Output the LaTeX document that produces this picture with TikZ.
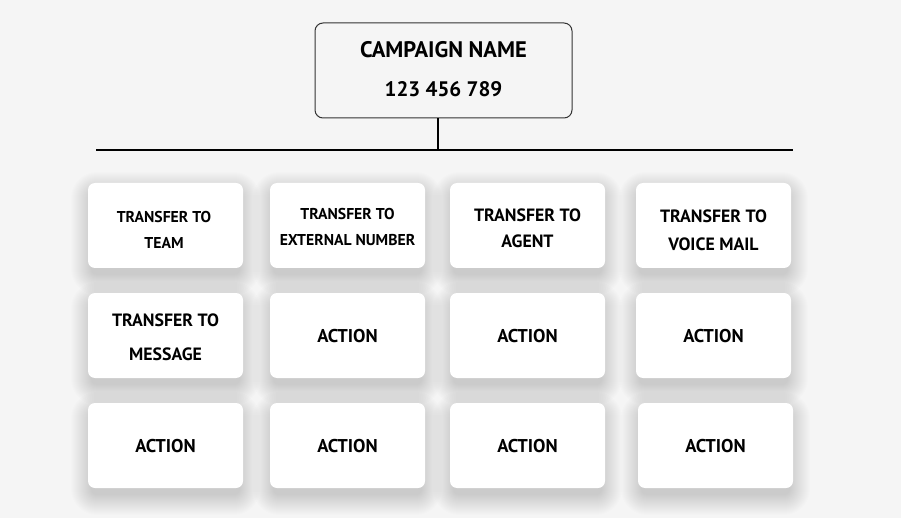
\documentclass[tikz,border=0pt]{standalone}
\usepackage{fontspec}
\setmainfont{PT Sans}
\definecolor{bg}{HTML}{F5F5F5}
\tikzset{
  card/.style={draw=none, fill=white, rounded corners=7pt, minimum width=155pt, minimum height=85pt, inner sep=0pt},
  lbl/.style={font=\bfseries\fontsize{#1}{#1}\selectfont, inner sep=0pt, text=black},
  lbl/.default=18,
  conn/.style={line width=2pt, black},
  shadowlayer/.style={fill=black, fill opacity=0.009, draw=none}
}
\begin{document}
\begin{tikzpicture}[x=1pt,y=1pt]
\fill[bg] (0,0) rectangle (901,-518);
\useasboundingbox (0,0) rectangle (901,-518);
% top box
\node[draw=black!80, line width=1pt, fill=bg, rounded corners=8pt, minimum width=257pt, minimum height=95pt, inner sep=0pt] (top) at (443.5,-70.5) {};
\node[lbl=22.5] (tname) at (443.5,-50) {CAMPAIGN NAME};
\node[lbl=21] (tnum) at (443.5,-89) {123 456 789};
\coordinate (hl) at (96,-150);
\coordinate (hr) at (793,-150);
\coordinate (hm) at (438,-150);
\draw[conn] (hl) -- (hr);
\draw[conn] (top.south -| hm) -- (hm);
% shadows
\foreach \cx/\cy in {165.5/225.5,347.5/225.5,527.5/225.5,713.5/225.5,
                     165.5/335.5,347.5/335.5,527.5/335.5,713.5/335.5,
                     165.5/445.5,347.5/445.5,527.5/445.5,715.5/445.5}{
  \foreach \i in {0,...,20}{
    \pgfmathsetmacro\rr{6+\i}
    \fill[shadowlayer, rounded corners=\rr pt]
      (\cx-77.5-\i+3, -\cy+42.5+\i-9) rectangle (\cx+77.5+\i-3, -\cy-42.5-\i-7);
  }
}
% cards
\node[card] (c11) at (165.5,-225.5) {};
\node[card] (c12) at (347.5,-225.5) {};
\node[card] (c13) at (527.5,-225.5) {};
\node[card] (c14) at (713.5,-225.5) {};
\node[card] (c21) at (165.5,-335.5) {};
\node[card] (c22) at (347.5,-335.5) {};
\node[card] (c23) at (527.5,-335.5) {};
\node[card] (c24) at (713.5,-335.5) {};
\node[card] (c31) at (165.5,-445.5) {};
\node[card] (c32) at (347.5,-445.5) {};
\node[card] (c33) at (527.5,-445.5) {};
\node[card] (c34) at (715.5,-445.5) {};
% labels
\node[lbl=15.7] (l11a) at (164,-217) {TRANSFER TO};
\node[lbl=15.7] (l11b) at (164,-243) {TEAM};
\node[lbl=15.7] (l12a) at (347.5,-214) {TRANSFER TO};
\node[lbl=15.7] (l12b) at (347.5,-240) {EXTERNAL NUMBER};
\node[lbl=17.8] (l13a) at (527.5,-215) {TRANSFER TO};
\node[lbl=17.8] (l13b) at (527.5,-241) {AGENT};
\node[lbl=17.8] (l14a) at (713.5,-216) {TRANSFER TO};
\node[lbl=17.8] (l14b) at (713.5,-244) {VOICE MAIL};
\node[lbl=17.8] (l21a) at (165.5,-320) {TRANSFER TO};
\node[lbl=17.8] (l21b) at (165.5,-354) {MESSAGE};
\node[lbl=18.5] (l22) at (347.5,-336) {ACTION};
\node[lbl=18.5] (l23) at (527.5,-336) {ACTION};
\node[lbl=18.5] (l24) at (713.5,-336) {ACTION};
\node[lbl=18.5] (l31) at (165.5,-446) {ACTION};
\node[lbl=18.5] (l32) at (347.5,-446) {ACTION};
\node[lbl=18.5] (l33) at (527.5,-446) {ACTION};
\node[lbl=18.5] (l34) at (715.5,-446) {ACTION};
\end{tikzpicture}
\end{document}
